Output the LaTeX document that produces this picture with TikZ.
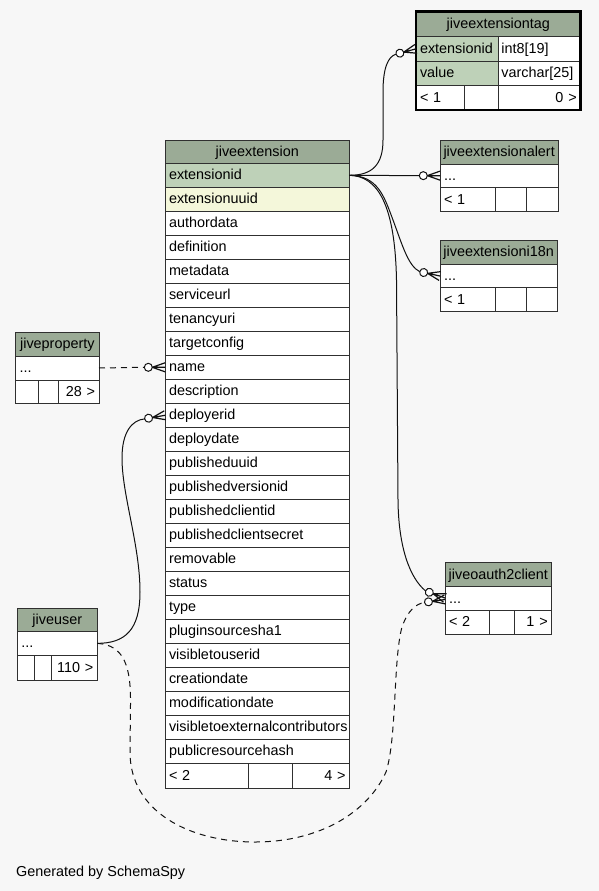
\documentclass[tikz,border=0pt]{standalone}
\usepackage{fontspec}
\setmainfont{Liberation Sans}
\usetikzlibrary{calc}
\definecolor{bg}{HTML}{F7F7F7}
\definecolor{hdr}{HTML}{9BAB96}
\definecolor{keyc}{HTML}{BED1B8}
\definecolor{idxc}{HTML}{F4F7DA}
\definecolor{bcol}{HTML}{303030}
\definecolor{ecol}{HTML}{111111}
\newcommand\zcell[8]{%
 \pgfmathsetmacro\zw{#4-#2}%
 \pgfmathsetmacro\zh{#5-#3}%
 \pgfmathsetmacro\ztw{#4-#2-6}%
 \pgfmathsetmacro\zcx{(#2+#4)/2}%
 \pgfmathsetmacro\zcy{(#3+#5)/2}%
 \node[cellst, fill=#6, minimum width=\zw pt, minimum height=\zh pt, text width=\ztw pt, align=#7] (#1) at (\zcx,\zcy) {\mbox{#8}};%
}
\tikzset{
 cellst/.style={draw=bcol, line width=0.9pt, outer sep=0pt, inner xsep=3pt, inner ysep=0pt,
   text height=10.4pt, text depth=1.2pt, font=\fontsize{14.4}{16}\selectfont, text=black},
 rel/.style={draw=ecol, line width=1pt},
 reld/.style={rel, dash pattern=on 6pt off 5pt},
 zcrow/.pic={
   \draw[ecol, line width=1.2pt] (-12.7,0) -- (0,4.5) (-12.7,0) -- (0,0) (-12.7,0) -- (0,-4.5);
   \draw[ecol, line width=1pt, fill=white] (-16.7,0) circle[radius=4pt];
 }
}
\begin{document}
\begin{tikzpicture}[x=1pt,y=-1pt]
\useasboundingbox (0,0) rectangle (599,891);
\fill[bg] (0,0) rectangle (599,891);

% jiveextension
\zcell{jx-h}{165}{140}{349.5}{163.3}{hdr}{center}{jiveextension}
\zcell{jx-1}{165}{163.3}{349.5}{187.3}{keyc}{left}{\hspace{1pt}extensionid}
\zcell{jx-2}{165}{187.3}{349.5}{211.3}{idxc}{left}{\hspace{1pt}extensionuuid}
\foreach \t [count=\i from 3] in {authordata,definition,metadata,serviceurl,tenancyuri,targetconfig,name,description,deployerid,deploydate,publisheduuid,publishedversionid,publishedclientid,publishedclientsecret,removable,status,type,pluginsourcesha1,visibletouserid,creationdate,modificationdate,visibletoexternalcontributors,publicresourcehash}{
 \pgfmathsetmacro\ya{163.3+(\i-1)*24}
 \pgfmathsetmacro\yb{\ya+24}
 \zcell{jx-\i}{165}{\ya}{349.5}{\yb}{white}{left}{\hspace{1pt}\t}
}
\zcell{jx-f1}{165}{763.3}{248.3}{788.3}{white}{left}{\hspace{1pt}< 2}
\zcell{jx-f2}{248.3}{763.3}{292.7}{788.3}{white}{left}{}
\zcell{jx-f3}{292.7}{763.3}{349.5}{788.3}{white}{right}{4 >\hspace{1pt}}

% jiveextensiontag
\zcell{tag-h}{416}{11.7}{580.7}{36.7}{hdr}{center}{jiveextensiontag}
\zcell{tag-1}{416}{36.7}{498.3}{61}{keyc}{left}{\hspace{1pt}extensionid}
\zcell{tag-1t}{498.3}{36.7}{580.7}{61}{white}{left}{int8[19]}
\zcell{tag-2}{416}{61}{498.3}{85}{keyc}{left}{\hspace{1pt}value}
\zcell{tag-2t}{498.3}{61}{580.7}{85}{white}{left}{varchar[25]}
\zcell{tag-f1}{416}{85}{464}{110}{white}{left}{\hspace{1pt}< 1}
\zcell{tag-f2}{464}{85}{498.3}{110}{white}{left}{}
\zcell{tag-f3}{498.3}{85}{580.7}{110}{white}{right}{0 >\hspace{1pt}}
\draw[line width=2.6pt, black] (tag-h.north west) rectangle (tag-f3.south east);

% jiveextensionalert
\zcell{al-h}{440}{140}{558.3}{164}{hdr}{center}{jiveextensionalert}
\zcell{al-r}{440}{164}{558.3}{187.3}{white}{left}{\hspace{1pt}...}
\zcell{al-f1}{440}{187.3}{495.7}{211.7}{white}{left}{\hspace{1pt}< 1}
\zcell{al-f2}{495.7}{187.3}{526.7}{211.7}{white}{left}{}
\zcell{al-f3}{526.7}{187.3}{558.3}{211.7}{white}{right}{}

% jiveextensioni18n
\zcell{in-h}{440}{240}{557.3}{264.3}{hdr}{center}{jiveextensioni18n}
\zcell{in-r}{440}{264.3}{557.3}{287.7}{white}{left}{\hspace{1pt}...}
\zcell{in-f1}{440}{287.7}{495.7}{311.7}{white}{left}{\hspace{1pt}< 1}
\zcell{in-f2}{495.7}{287.7}{526.7}{311.7}{white}{left}{}
\zcell{in-f3}{526.7}{287.7}{557.3}{311.7}{white}{right}{}

% jiveproperty
\zcell{pr-h}{15.7}{332.3}{99}{356}{hdr}{center}{jiveproperty}
\zcell{pr-r}{15.7}{356}{99}{380}{white}{left}{\hspace{1pt}...}
\zcell{pr-f1}{15.7}{380}{38.7}{403.3}{white}{left}{}
\zcell{pr-f2}{38.7}{380}{58.7}{403.3}{white}{left}{}
\zcell{pr-f3}{58.7}{380}{99}{403.3}{white}{right}{28 >\hspace{1pt}}

% jiveuser
\zcell{us-h}{17.3}{608.3}{97.3}{631.7}{hdr}{center}{jiveuser}
\zcell{us-r}{17.3}{631.7}{97.3}{655}{white}{left}{\hspace{1pt}...}
\zcell{us-f1}{17.3}{655}{34.7}{680}{white}{left}{}
\zcell{us-f2}{34.7}{655}{51.7}{680}{white}{left}{}
\zcell{us-f3}{51.7}{655}{97.3}{680}{white}{right}{110 >\hspace{1pt}}

% jiveoauth2client
\zcell{oa-h}{445}{562.7}{551.7}{586.7}{hdr}{center}{jiveoauth2client}
\zcell{oa-r}{445}{586.7}{551.7}{610.7}{white}{left}{\hspace{1pt}...}
\zcell{oa-f1}{445}{610.7}{489.3}{634}{white}{left}{\hspace{1pt}< 2}
\zcell{oa-f2}{489.3}{610.7}{514.3}{634}{white}{left}{}
\zcell{oa-f3}{514.3}{610.7}{551.7}{634}{white}{right}{1 >\hspace{1pt}}

% connector end points (arrow tips and circle edges)
\coordinate (t1) at (tag-1.west);
\coordinate (t2) at (al-r.west);
\coordinate (t3) at (in-r.west);
\coordinate (t4) at ($(oa-r.west)+(0,-0.7)$);
\coordinate (t7) at ($(oa-r.west)+(0,0.8)$);
\coordinate (t5) at (jx-9.west);
\coordinate (t6) at (jx-11.west);
\coordinate (e1) at ($(t1)+(165:20.7)$);
\coordinate (e2) at ($(t2)+(180:20.7)$);
\coordinate (e3) at ($(t3)+(192:20.7)$);
\coordinate (e4) at ($(t4)+(200:20.7)$);
\coordinate (e7) at ($(t7)+(172:20.7)$);
\coordinate (e5) at ($(t5)+(180:20.7)$);
\coordinate (e6) at ($(t6)+(170:20.7)$);

% connectors
\draw[rel] (jx-1.east) .. controls (372,175.3) and (383,165) .. (383,140) -- (383,92) .. controls (383,68) and (388,56.5) .. (e1);
\draw[rel] (jx-1.east) -- (e2);
\draw[rel] (jx-1.east) .. controls (378,176) and (384,196) .. (393,220) .. controls (402,244) and (408,266) .. (e3);
\draw[rel] (jx-1.east) .. controls (378,176) and (395,205) .. (396.5,280) -- (398,500) .. controls (398.5,548) and (410,578) .. (e4);
\draw[reld] (pr-r.east) -- (e5);
\draw[rel] (us-r.east) .. controls (125,643.3) and (140,630) .. (140,592) .. controls (140,545) and (122,495) .. (122,458) .. controls (122,432) and (132,420) .. (e6);
\draw[reld] (us-r.east) .. controls (125,645) and (131,668) .. (130.5,705) -- (130,752) .. controls (130,812) and (190,842) .. (255,842) .. controls (320,842) and (368,812) .. (386,772) .. controls (397,738) and (393,660) .. (402,627) .. controls (408,610) and (416,604) .. (e7);

% crow's feet with circles
\pic[rotate=15] at (t1) {zcrow};
\pic at (t2) {zcrow};
\pic[rotate=-12] at (t3) {zcrow};
\pic[rotate=-20] at (t4) {zcrow};
\pic[rotate=8] at (t7) {zcrow};
\pic at (t5) {zcrow};
\pic[rotate=10] at (t6) {zcrow};

\node[font=\fontsize{14.4}{16}\selectfont, anchor=base west, inner sep=0pt] (gen) at (16,876) {Generated by SchemaSpy};
\end{tikzpicture}
\end{document}
